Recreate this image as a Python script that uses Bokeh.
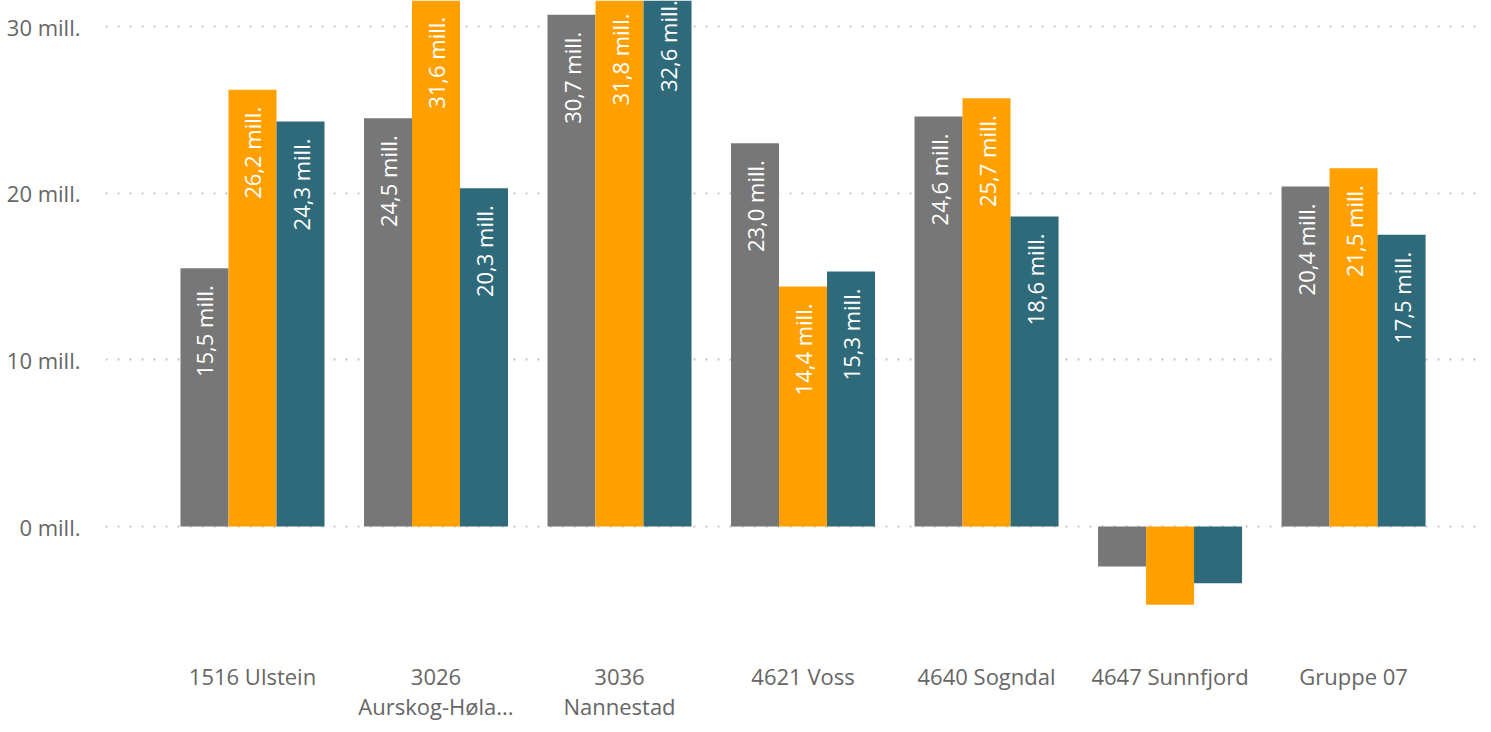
import math
from bokeh.plotting import figure
from bokeh.models import ColumnDataSource, FixedTicker
from bokeh.transform import dodge
from bokeh.core.properties import value
from bokeh.embed import file_html
from bokeh.resources import INLINE

categories = ["1516 Ulstein", "3026 Aurskog-Høland", "3036 Nannestad", "4621 Voss",
              "4640 Sogndal", "4647 Sunnfjord", "Gruppe 07"]
tick_labels = ["1516 Ulstein", "3026\nAurskog-Høla...", "3036\nNannestad", "4621 Voss",
               "4640 Sogndal", "4647 Sunnfjord", "Gruppe 07"]
serie_1 = [15.5, 24.5, 30.7, 23.0, 24.6, -2.4, 20.4]
serie_2 = [26.2, 31.6, 31.8, 14.4, 25.7, -4.7, 21.5]
serie_3 = [24.3, 20.3, 32.6, 15.3, 18.6, -3.4, 17.5]
y_ticks = [0, 10, 20, 30]
y_tick_labels = ["0 mill.", "10 mill.", "20 mill.", "30 mill."]

colors = ["#777777", "#FFA000", "#2F6A7A"]
FONT = "Open Sans"
BW = 0.2616

xs = list(range(len(categories)))
src = ColumnDataSource(dict(x=xs, s1=serie_1, s2=serie_2, s3=serie_3))

p = figure(width=1483, height=724, output_backend="svg", toolbar_location=None,
           x_range=(-0.801, 6.708), y_range=(-7.32, 31.56),
           min_border_left=105, min_border_right=0, min_border_top=0, min_border_bottom=60)
p.outline_line_color = None
p.background_fill_color = "white"
p.border_fill_color = "white"

for key, off, col in [("s1", -BW, colors[0]), ("s2", 0.0, colors[1]), ("s3", BW, colors[2])]:
    p.vbar(x=dodge("x", off, range=p.x_range), top=key, bottom=0, width=BW,
           source=src, fill_color=col, line_color=None)

# data labels
lx, ly, lt = [], [], []
for series, off in [(serie_1, -BW), (serie_2, 0.0), (serie_3, BW)]:
    for i, v in enumerate(series):
        if v >= 5:
            lx.append(i + off)
            ly.append(v)
            lt.append(f"{v:.1f}".replace(".", ",") + " mill.")
lsrc = ColumnDataSource(dict(x=lx, y=ly, t=lt))
p.text(x="x", y="y", text="t", source=lsrc, angle=math.pi / 2, text_align="right",
       text_baseline="middle", y_offset=17, text_color="white",
       text_font=value(FONT), text_font_size="22px")

# axes
p.xaxis.ticker = FixedTicker(ticks=xs)
p.xaxis.major_label_overrides = {i: t for i, t in enumerate(tick_labels)}
p.xaxis.axis_line_color = None
p.xaxis.major_tick_line_color = None
p.xaxis.minor_tick_line_color = None
p.xaxis.major_label_text_font = FONT
p.xaxis.major_label_text_font_size = "22px"
p.xaxis.major_label_text_color = "#666666"
p.xaxis.major_label_text_line_height = 1.03
p.xaxis.major_label_standoff = 6

p.yaxis.ticker = FixedTicker(ticks=y_ticks)
p.yaxis.major_label_overrides = {t: l for t, l in zip(y_ticks, y_tick_labels)}
p.yaxis.axis_line_color = None
p.yaxis.major_tick_line_color = None
p.yaxis.minor_tick_line_color = None
p.yaxis.major_label_text_font = FONT
p.yaxis.major_label_text_font_size = "22px"
p.yaxis.major_label_text_color = "#666666"
p.yaxis.major_label_standoff = 19

p.xgrid.grid_line_color = None
p.ygrid.grid_line_color = "#C4C4C4"
p.ygrid.grid_line_dash = "2 10"
p.ygrid.grid_line_width = 2

open("out.html", "w").write(file_html(p, INLINE))
